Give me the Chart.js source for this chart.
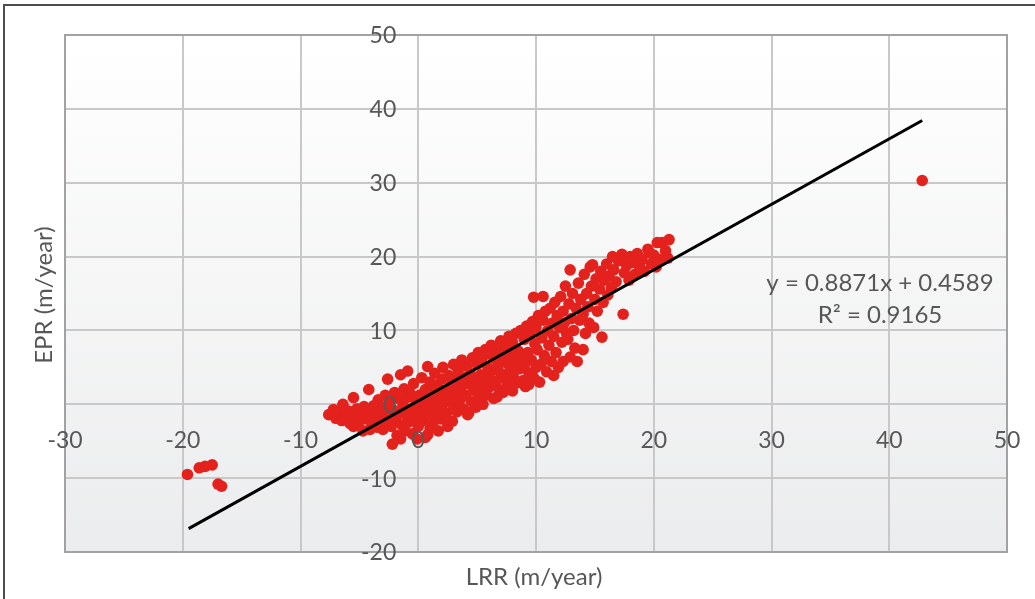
<!DOCTYPE html>
<html>
<head>
<meta charset="utf-8">
<title>EPR vs LRR</title>
<script src="https://cdn.jsdelivr.net/npm/chart.js"></script>
<style>
  body { margin: 0; background: #fff; }
  #wrap { width: 1035px; height: 599px; }
</style>
</head>
<body>
<div id="wrap"><canvas id="myChart" width="1035" height="599"></canvas></div>
<script>
// LRR (x) / EPR (y) pairs, m/year
const points = [
  [-19.6,-9.5],[-18.6,-8.6],[-18.1,-8.4],[-17.5,-8.2],[-17.0,-10.8],[-16.7,-11.1],
  [-7.6,-1.4],[-7.2,-0.7],[-7.0,-1.9],[-6.8,-1.2],[-6.5,-2.2],[-6.4,0.0],[-6.1,-1.5],[-5.9,-0.9],
  [-5.8,-2.6],[-5.5,0.9],[-5.5,-3.0],[-5.3,-1.8],[-5.2,-0.6],[-5.0,-2.3],[-4.9,-1.2],[-4.7,-3.6],
  [-4.6,-0.3],[-4.4,-2.0],[-4.2,2.0],[-4.1,-3.4],[-4.0,-1.0],
  [-3.9,-2.6],[-3.8,-0.2],[-3.7,-1.6],[-3.5,-3.1],[-3.4,0.6],[-3.3,-2.1],[-3.1,-1.0],[-3.0,-3.4],
  [-2.9,-0.4],[-2.8,1.2],[-2.7,-2.4],[-2.6,3.4],[-2.5,-1.4],[-2.4,0.3],[-2.3,-3.0],[-2.2,-5.4],
  [-2.1,-0.8],[-2.0,1.6],[-1.9,-2.0],[-1.8,-4.2],[-1.7,0.8],[-1.6,-1.2],[-1.5,4.0],[-1.5,-4.7],
  [-1.4,-2.8],[-1.3,-0.2],[-1.2,2.1],[-1.1,-3.6],[-1.0,-1.5],[-1.0,0.9],[-0.9,4.5],[-0.8,-2.4],
  [-0.7,1.5],[-0.6,-0.6],[-0.5,-4.0],
  [-0.4,2.8],[-0.3,-1.8],[-0.2,0.4],[-0.1,-4.7],[0.0,-3.0],[0.1,1.2],[0.2,-0.9],[0.3,3.6],
  [0.4,-2.2],[0.5,0.0],[0.6,-4.5],[0.6,2.0],[0.7,-1.3],[0.8,5.1],[0.8,-4.1],[0.9,0.7],
  [1.0,-3.2],[1.0,3.0],[1.1,-0.4],[1.2,1.8],[1.3,-2.4],[1.4,4.2],[1.5,0.3],[1.5,-1.6],
  [1.6,2.6],[1.7,-3.6],[1.8,1.1],[1.9,-0.6],[2.0,3.4],[2.0,-2.0],[2.1,5.0],[2.2,0.2],
  [2.3,1.9],[2.4,-1.2],[2.5,-3.0],
  [2.6,3.9],[2.7,0.9],[2.8,2.6],[2.9,-2.3],[3.0,-0.2],[3.0,5.4],[3.1,1.6],[3.2,3.2],
  [3.3,-1.0],[3.4,4.6],[3.5,0.5],[3.6,2.2],[3.7,6.0],[3.8,-0.6],[3.9,3.6],[4.0,1.2],
  [4.1,5.2],[4.2,-1.4],[4.2,2.8],[4.3,-1.1],[4.4,4.2],[4.5,0.4],[4.6,6.3],[4.7,1.9],
  [4.8,3.4],[4.9,-0.4],[5.0,5.4],[5.0,2.6],[5.1,7.0],[5.2,0.9],[5.3,4.0],[5.4,6.2],
  [5.5,0.0],[5.5,2.1],[5.6,3.3],[5.7,7.4],[5.8,1.3],[5.9,5.0],[6.0,3.8],[6.0,6.8],
  [6.1,2.4],[6.2,8.0],[6.3,4.6],[6.4,0.8],[6.5,6.2],[6.6,3.1],[6.7,1.0],[6.7,7.6],
  [6.8,5.4],[6.9,2.0],[7.0,8.6],[7.0,4.2],[7.1,6.6],[7.2,1.6],[7.3,3.5],[7.4,7.9],
  [7.5,5.6],[7.6,2.6],[7.7,9.2],[7.8,4.6],[7.9,6.9],[8.0,1.8],[8.0,8.4],[8.1,3.6],
  [8.2,5.8],[8.3,9.6],[8.4,2.9],[8.5,7.2],[8.6,4.8],[8.7,10.0],[8.8,6.4],[8.9,3.2],
  [9.0,8.8],[9.0,5.2],[9.1,2.4],[9.2,10.6],[9.3,7.0],[9.4,2.7],[9.4,4.2],[9.5,9.4],
  [9.6,6.0],[9.7,11.2],[9.8,14.5],[9.8,3.6],[9.9,8.2],[10.0,5.0],[10.0,10.4],[10.1,7.4],
  [10.2,12.0],[10.3,3.0],
  [10.4,5.4],[10.5,9.0],[10.6,14.6],[10.6,11.4],[10.7,6.6],[10.8,12.6],[10.9,4.4],[11.0,10.0],
  [11.1,8.0],[11.2,13.0],[11.3,5.8],[11.4,11.0],[11.5,3.9],[11.5,9.2],[11.6,13.8],[11.7,7.0],
  [11.8,12.0],[11.9,5.0],[12.0,10.4],[12.1,14.6],[12.2,8.4],[12.3,5.8],[12.3,12.6],[12.4,11.0],
  [12.5,16.0],[12.6,9.6],[12.7,8.8],[12.8,13.6],[12.9,18.2],[12.9,6.4],[13.0,11.6],[13.1,15.0],
  [13.2,10.0],[13.3,7.6],[13.4,13.0],[13.5,5.8],[13.6,16.4],[13.7,11.4],[13.8,14.2],[14.0,7.4],
  [14.0,12.2],[14.1,17.6],[14.2,9.6],[14.3,15.0],[14.4,13.2],[14.5,11.0],[14.6,18.6],[14.7,16.0],
  [14.8,18.9],[14.9,10.4],[15.0,14.2],[15.1,17.0],[15.2,12.6],[15.4,15.6],[15.5,18.0],[15.6,9.1],
  [15.7,13.8],[15.8,16.8],[16.0,19.0],[16.1,14.8],[16.2,17.4],[16.4,15.8],[16.5,20.0],[16.6,18.2],
  [16.8,16.6],[17.0,19.4],[17.2,20.0],[17.3,20.3],[17.4,12.2],[17.5,17.8],
  [17.7,18.8],[17.9,16.8],[18.0,20.0],[18.2,19.2],[18.4,17.6],[18.6,20.4],[18.8,18.6],[19.0,19.6],
  [19.2,18.0],[19.5,21.0],[19.6,20.5],[19.8,19.0],[20.0,20.2],[20.2,18.6],[20.3,21.9],[20.5,19.6],
  [20.7,21.9],[21.0,20.8],[21.2,19.8],[21.3,22.3],
  [42.8,30.3]
];

// axis ranges and tick step
const xRange = [-30, 50];
const yRange = [-20, 50];
const tickStep = 10;

// excel linear trendline as printed on the chart
const slope = 0.8871;
const intercept = 0.4589;
const rSquared = 0.9165;
const trendFrom = -19.5;
const trendTo = 42.8;

const textColor = '#575757';
const fontFamily = 'Lato, "Open Sans", sans-serif';

const trend = [trendFrom, trendTo].map(x => ({ x: x, y: slope * x + intercept }));

// plot-area background, frame, labels drawn around the library axes
const excelLook = {
  id: 'excelLook',
  beforeDraw(chart) {
    const { ctx, chartArea: a } = chart;
    ctx.save();
    const g = ctx.createLinearGradient(0, a.top, 0, a.bottom);
    g.addColorStop(0, '#ffffff');
    g.addColorStop(1, '#ebeced');
    ctx.fillStyle = g;
    ctx.fillRect(a.left, a.top, a.right - a.left, a.bottom - a.top);
    // picture edge
    ctx.strokeStyle = '#4d4d4d';
    ctx.lineWidth = 2;
    ctx.beginPath();
    ctx.moveTo(4, 599);
    ctx.lineTo(4, 5);
    ctx.lineTo(1035, 5);
    ctx.stroke();
    ctx.restore();
  },
  beforeDatasetsDraw(chart) {
    const { ctx, chartArea: a } = chart;
    ctx.save();
    ctx.strokeStyle = '#a3a1a3';
    ctx.lineWidth = 2;
    ctx.strokeRect(a.left, a.top, a.right - a.left, a.bottom - a.top);
    ctx.restore();
  },
  afterDraw(chart) {
    const { ctx } = chart;
    const xs = chart.scales.x, ys = chart.scales.y;
    const x0 = xs.getPixelForValue(0), y0 = ys.getPixelForValue(0);
    ctx.save();
    ctx.fillStyle = textColor;
    ctx.font = '23px ' + fontFamily;
    ctx.textBaseline = 'middle';
    ctx.textAlign = 'center';
    xs.ticks.forEach(t => ctx.fillText(t.label, xs.getPixelForValue(t.value), y0 + 36));
    ctx.textAlign = 'right';
    ys.ticks.forEach(t => ctx.fillText(t.label, x0 - 22, ys.getPixelForValue(t.value) + 1));

    // axis titles
    ctx.font = '24px ' + fontFamily;
    ctx.textAlign = 'center';
    ctx.fillText('LRR (m/year)', 534, 577);
    ctx.save();
    ctx.translate(44, 295);
    ctx.rotate(-Math.PI / 2);
    ctx.fillText('EPR (m/year)', 0, 0);
    ctx.restore();

    // trendline equation
    ctx.fillText('y = ' + slope + 'x + ' + intercept, 880, 283);
    ctx.fillText('R\u00B2 = ' + rSquared, 880, 315);
    ctx.restore();
  }
};

const ctx = document.getElementById('myChart').getContext('2d');
new Chart(ctx, {
  type: 'scatter',
  data: {
    datasets: [
      {
        type: 'line',
        label: 'Linear (EPR)',
        data: trend,
        borderColor: '#000000',
        borderWidth: 3,
        pointRadius: 0,
        order: 0
      },
      {
        label: 'EPR',
        data: points.map(p => ({ x: p[0], y: p[1] })),
        backgroundColor: '#e4221d',
        borderWidth: 0,
        pointRadius: 5.8,
        order: 1
      }
    ]
  },
  options: {
    responsive: false,
    animation: false,
    layout: { padding: { left: 65, top: 35, right: 28, bottom: 47 } },
    plugins: {
      legend: { display: false },
      tooltip: { enabled: false }
    },
    scales: {
      x: {
        type: 'linear',
        min: xRange[0],
        max: xRange[1],
        ticks: { stepSize: tickStep, display: false },
        grid: { color: '#c8c8c8', lineWidth: 2, drawTicks: false },
        border: { display: false }
      },
      y: {
        type: 'linear',
        min: yRange[0],
        max: yRange[1],
        ticks: { stepSize: tickStep, display: false },
        grid: { color: '#c8c8c8', lineWidth: 2, drawTicks: false },
        border: { display: false }
      }
    }
  },
  plugins: [excelLook]
});
</script>
</body>
</html>
